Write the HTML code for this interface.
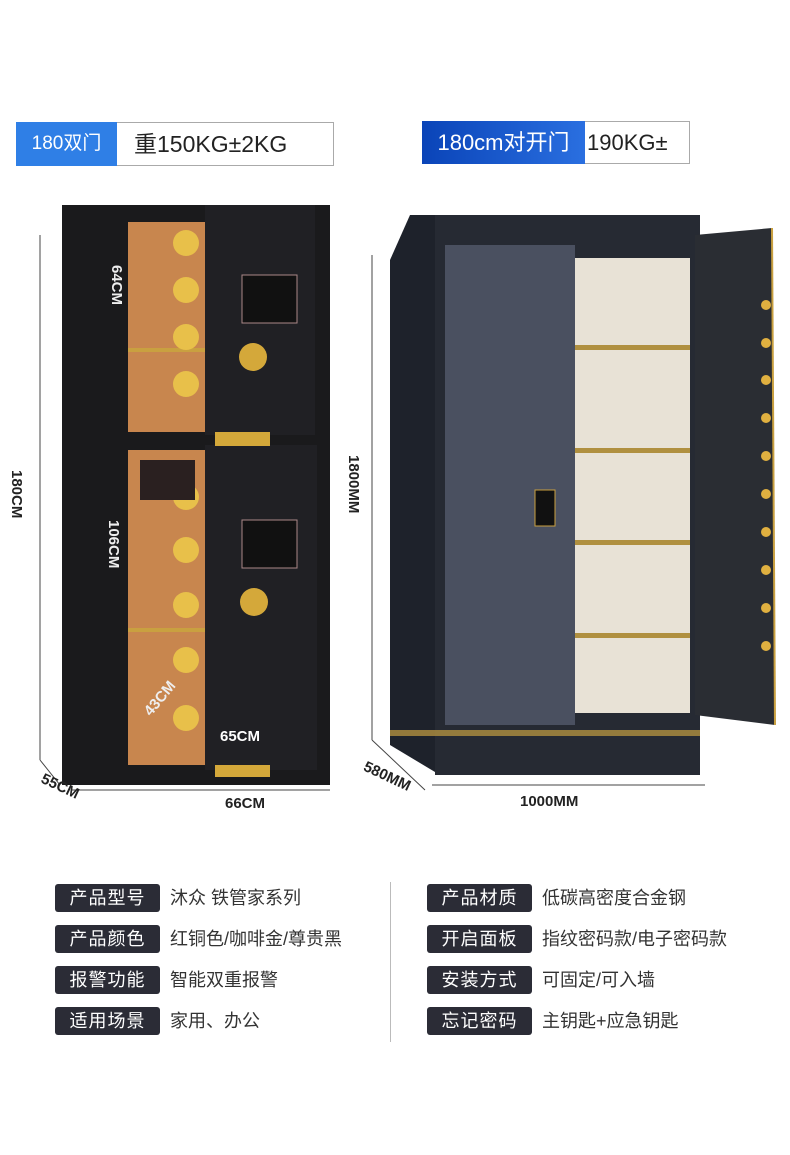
<!DOCTYPE html>
<html><head><meta charset="utf-8"><style>
*{margin:0;padding:0;box-sizing:border-box}
body{width:790px;height:1155px;background:#fff;position:relative;overflow:hidden;font-family:"Liberation Sans","Noto Sans CJK SC",sans-serif}
.a{position:absolute}
.lab{position:absolute;width:105px;height:28px;background:#2b2c36;color:#fff;border-radius:3px;font-size:18px;line-height:28px;text-align:center;letter-spacing:1px}
.val{position:absolute;font-size:18px;color:#333;line-height:28px}
.dim{position:absolute;font-size:15px;color:#222;font-weight:bold}
</style></head><body>
<div class="a" style="left:16px;top:122px;width:318px;height:44px;border:1px solid #aaa;background:#fff"></div>
<div class="a" style="left:16px;top:122px;width:101px;height:44px;background:#2f7fe6;color:#fff;font-size:19px;line-height:44px;text-align:center">180双门</div>
<div class="a" style="left:134px;top:122px;font-size:23px;line-height:44px;color:#222">重150KG±2KG</div>
<div class="a" style="left:422px;top:121px;width:268px;height:43px;border:1px solid #aaa;background:#fff"></div>
<div class="a" style="left:422px;top:121px;width:163px;height:43px;background:linear-gradient(90deg,#0a44b8,#2a6fe0);color:#fff;font-size:22px;line-height:43px;text-align:center">180cm对开门</div>
<div class="a" style="left:587px;top:121px;font-size:22px;line-height:43px;color:#222">190KG±</div>

<svg class="a" style="left:0;top:0" width="790" height="860">
<rect x="62" y="205" width="268" height="580" fill="#1a1a1c"/>
<rect x="128" y="222" width="80" height="210" fill="#c8864e"/>
<rect x="128" y="450" width="80" height="315" fill="#c8864e"/>
<g fill="#c9a040"><rect x="128" y="348" width="80" height="4"/><rect x="128" y="628" width="80" height="4"/></g>
<rect x="205" y="205" width="110" height="230" fill="#202024"/>
<rect x="205" y="445" width="112" height="325" fill="#202024"/>
<rect x="242" y="275" width="55" height="48" fill="#111" stroke="#a88" />
<rect x="242" y="520" width="55" height="48" fill="#111" stroke="#a88"/>
<circle cx="253" cy="357" r="14" fill="#d4a83a"/>
<circle cx="254" cy="602" r="14" fill="#d4a83a"/>
<g fill="#e8c04a">
<circle cx="186" cy="243" r="13"/><circle cx="186" cy="290" r="13"/><circle cx="186" cy="337" r="13"/><circle cx="186" cy="384" r="13"/>
<circle cx="186" cy="497" r="13"/><circle cx="186" cy="550" r="13"/><circle cx="186" cy="605" r="13"/><circle cx="186" cy="660" r="13"/><circle cx="186" cy="718" r="13"/>
</g>
<g fill="#d4a83a"><rect x="215" y="432" width="55" height="14"/><rect x="215" y="765" width="55" height="12"/></g>
<rect x="140" y="460" width="55" height="40" fill="#2a2020"/>
<g stroke="#444" fill="none" stroke-width="1">
<line x1="40" y1="235" x2="40" y2="760"/><line x1="40" y1="760" x2="60" y2="785"/>
<line x1="72" y1="790" x2="330" y2="790"/>
</g>
<polygon points="390,260 410,215 440,215 440,775 390,745" fill="#1e222b"/>
<rect x="435" y="215" width="265" height="560" fill="#262a33"/>
<rect x="445" y="245" width="130" height="480" fill="#4a5060"/>
<rect x="575" y="258" width="115" height="455" fill="#e8e2d6"/>
<g fill="#b09040"><rect x="575" y="345" width="115" height="5"/><rect x="575" y="448" width="115" height="5"/><rect x="575" y="540" width="115" height="5"/><rect x="575" y="633" width="115" height="5"/></g>
<rect x="390" y="730" width="310" height="6" fill="#b09040" opacity=".8"/>
<rect x="535" y="490" width="20" height="36" fill="#111" stroke="#c9a040"/>
<polygon points="695,235 772,228 775,725 695,715" fill="#2a2d33"/>
<line x1="772" y1="228" x2="775" y2="725" stroke="#c9a040" stroke-width="2"/>
<g fill="#e0b040"><circle cx="766" cy="305" r="5"/><circle cx="766" cy="343" r="5"/><circle cx="766" cy="380" r="5"/><circle cx="766" cy="418" r="5"/><circle cx="766" cy="456" r="5"/><circle cx="766" cy="494" r="5"/><circle cx="766" cy="532" r="5"/><circle cx="766" cy="570" r="5"/><circle cx="766" cy="608" r="5"/><circle cx="766" cy="646" r="5"/></g>
<g stroke="#444" fill="none">
<line x1="372" y1="255" x2="372" y2="740"/><line x1="372" y1="740" x2="425" y2="790"/>
<line x1="432" y1="785" x2="705" y2="785"/>
</g>
</svg>
<div class="dim" style="left:108px;top:265px;writing-mode:vertical-rl;color:#eee">64CM</div>
<div class="dim" style="left:105px;top:520px;writing-mode:vertical-rl;color:#eee">106CM</div>
<div class="dim" style="left:140px;top:690px;transform:rotate(-50deg);color:#eee">43CM</div>
<div class="dim" style="left:8px;top:470px;writing-mode:vertical-rl">180CM</div>
<div class="dim" style="left:220px;top:728px;color:#fff">65CM</div>
<div class="dim" style="left:225px;top:795px">66CM</div>
<div class="dim" style="left:40px;top:778px;transform:rotate(25deg)">55CM</div>
<div class="dim" style="left:345px;top:455px;writing-mode:vertical-rl">1800MM</div>
<div class="dim" style="left:520px;top:793px">1000MM</div>
<div class="dim" style="left:362px;top:768px;transform:rotate(25deg)">580MM</div>

<div class="a" style="left:390px;top:882px;width:1px;height:160px;background:#bbb"></div>
<div class="lab" style="left:55px;top:884px">产品型号</div><div class="val" style="left:170px;top:884px">沐众 铁管家系列</div>
<div class="lab" style="left:55px;top:925px">产品颜色</div><div class="val" style="left:170px;top:925px">红铜色/咖啡金/尊贵黑</div>
<div class="lab" style="left:55px;top:966px">报警功能</div><div class="val" style="left:170px;top:966px">智能双重报警</div>
<div class="lab" style="left:55px;top:1007px">适用场景</div><div class="val" style="left:170px;top:1007px">家用、办公</div>
<div class="lab" style="left:427px;top:884px">产品材质</div><div class="val" style="left:542px;top:884px">低碳高密度合金钢</div>
<div class="lab" style="left:427px;top:925px">开启面板</div><div class="val" style="left:542px;top:925px">指纹密码款/电子密码款</div>
<div class="lab" style="left:427px;top:966px">安装方式</div><div class="val" style="left:542px;top:966px">可固定/可入墙</div>
<div class="lab" style="left:427px;top:1007px">忘记密码</div><div class="val" style="left:542px;top:1007px">主钥匙+应急钥匙</div>
</body></html>
